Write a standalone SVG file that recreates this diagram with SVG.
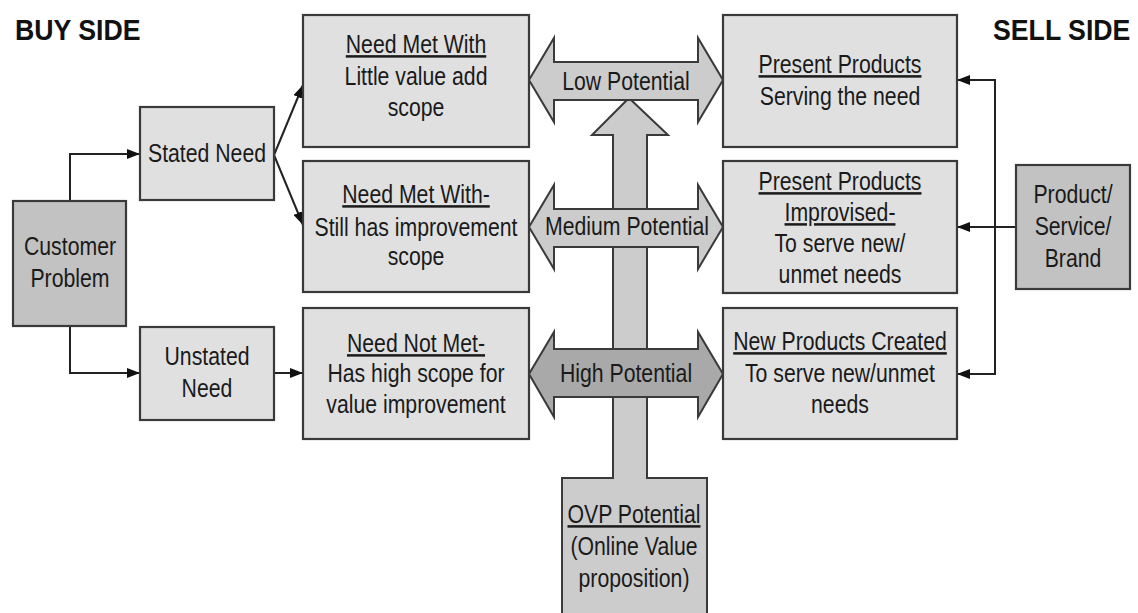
<svg xmlns="http://www.w3.org/2000/svg" width="1138" height="613" viewBox="0 0 1138 613">
<style>
.box{fill:#e0e0e0;stroke:#3a3a3a;stroke-width:2.2}
.dbox{fill:#c2c2c2;stroke:#3a3a3a;stroke-width:2.2}
.arr{fill:#cccccc;stroke:#3a3a3a;stroke-width:2}
.harr{fill:#a9a9a9;stroke:#3a3a3a;stroke-width:2}
.t{font-family:"Liberation Sans",Arial,sans-serif;font-size:25px;fill:#1a1a1a;text-anchor:middle}
.u{text-decoration:underline}
.h{font-family:"Liberation Sans",Arial,sans-serif;font-size:30px;font-weight:bold;fill:#111}
.c{fill:none;stroke:#222;stroke-width:2}
</style>
<defs>
<marker id="ah" markerUnits="userSpaceOnUse" markerWidth="14" markerHeight="10" refX="13" refY="5" orient="auto">
<path d="M0,0 L13,5 L0,10 Z" fill="#111"/>
</marker>
</defs>
<rect width="1138" height="613" fill="#fff"/>

<g id="heading-buy"><text class="h" transform="translate(15 40) scale(0.89 1)">BUY SIDE</text></g>
<g id="heading-sell"><text class="h" transform="translate(993 40) scale(0.89 1)">SELL SIDE</text></g>

<g id="connectors">
<path class="c" d="M70,201 V154 H140" marker-end="url(#ah)"/>
<path class="c" d="M70,326 V373 H140" marker-end="url(#ah)"/>
<path class="c" d="M274,373 H303" marker-end="url(#ah)"/>
<path class="c" d="M274,155 L303,85" marker-end="url(#ah)"/>
<path class="c" d="M274,155 L303,225" marker-end="url(#ah)"/>
<path class="c" d="M1016,227 H957" marker-end="url(#ah)"/>
<path class="c" d="M995,227 V80 H957" marker-end="url(#ah)"/>
<path class="c" d="M995,227 V374 H957" marker-end="url(#ah)"/>
</g>

<g id="customer-problem">
<rect class="dbox" x="13" y="201" width="113" height="125"/>
<text class="t" transform="translate(70 0) scale(0.85 1)"><tspan x="0" y="255">Customer</tspan><tspan x="0" y="287">Problem</tspan></text>
</g>
<g id="stated-need">
<rect class="box" x="140" y="107" width="134" height="93"/>
<text class="t" transform="translate(207 0) scale(0.85 1)"><tspan x="0" y="162">Stated Need</tspan></text>
</g>
<g id="unstated-need">
<rect class="box" x="140" y="327" width="134" height="93"/>
<text class="t" transform="translate(207 0) scale(0.85 1)"><tspan x="0" y="365">Unstated</tspan><tspan x="0" y="397">Need</tspan></text>
</g>

<g id="need-met-little">
<rect class="box" x="303" y="15" width="226" height="132"/>
<text class="t" transform="translate(416 0) scale(0.85 1)"><tspan class="u" x="0" y="53">Need Met With</tspan><tspan x="0" y="85">Little value add</tspan><tspan x="0" y="116">scope</tspan></text>
</g>
<g id="need-met-improve">
<rect class="box" x="303" y="161" width="226" height="131"/>
<text class="t" transform="translate(416 0) scale(0.85 1)"><tspan class="u" x="0" y="203">Need Met With-</tspan><tspan x="0" y="236">Still has improvement</tspan><tspan x="0" y="265">scope</tspan></text>
</g>
<g id="need-not-met">
<rect class="box" x="303" y="308" width="226" height="131"/>
<text class="t" transform="translate(416 0) scale(0.85 1)"><tspan class="u" x="0" y="352">Need Not Met-</tspan><tspan x="0" y="382">Has high scope for</tspan><tspan x="0" y="413">value improvement</tspan></text>
</g>

<g id="ovp-potential">
<polygon class="arr" points="629,98 668,135 647,135 647,478 707,478 707,620 562,620 562,478 613,478 613,135 592,135"/>
<text class="t" transform="translate(634 0) scale(0.85 1)"><tspan class="u" x="0" y="523">OVP Potential</tspan><tspan x="0" y="555">(Online Value</tspan><tspan x="0" y="587">proposition)</tspan></text>
</g>

<g id="low-potential">
<polygon class="arr" points="529,80 554,38 554,62 698,62 698,38 723,80 698,122 698,100 554,100 554,122"/>
<text class="t" transform="translate(626 0) scale(0.85 1)"><tspan x="0" y="90">Low Potential</tspan></text>
</g>
<g id="medium-potential">
<polygon class="arr" points="529,227 554,185 554,209 698,209 698,185 723,227 698,269 698,247 554,247 554,269"/>
<text class="t" transform="translate(627 0) scale(0.85 1)"><tspan x="0" y="235">Medium Potential</tspan></text>
</g>
<g id="high-potential">
<polygon class="harr" points="529,374 554,332 554,349 698,349 698,332 723,374 698,417 698,397 554,397 554,417"/>
<text class="t" transform="translate(626 0) scale(0.85 1)"><tspan x="0" y="382">High Potential</tspan></text>
</g>

<g id="present-products">
<rect class="box" x="723" y="15" width="234" height="132"/>
<text class="t" transform="translate(840 0) scale(0.85 1)"><tspan class="u" x="0" y="73">Present Products</tspan><tspan x="0" y="105">Serving the need</tspan></text>
</g>
<g id="present-products-improvised">
<rect class="box" x="723" y="161" width="234" height="132"/>
<text class="t" transform="translate(840 0) scale(0.85 1)"><tspan class="u" x="0" y="190">Present Products</tspan><tspan class="u" x="0" y="221">Improvised-</tspan><tspan x="0" y="252">To serve new/</tspan><tspan x="0" y="283">unmet needs</tspan></text>
</g>
<g id="new-products">
<rect class="box" x="723" y="308" width="234" height="131"/>
<text class="t" transform="translate(840 0) scale(0.85 1)"><tspan class="u" x="0" y="350">New Products Created</tspan><tspan x="0" y="382">To serve new/unmet</tspan><tspan x="0" y="413">needs</tspan></text>
</g>
<g id="product-service-brand">
<rect class="dbox" x="1016" y="165" width="114" height="124"/>
<text class="t" transform="translate(1073 0) scale(0.85 1)"><tspan x="0" y="203">Product/</tspan><tspan x="0" y="235">Service/</tspan><tspan x="0" y="267">Brand</tspan></text>
</g>
</svg>
